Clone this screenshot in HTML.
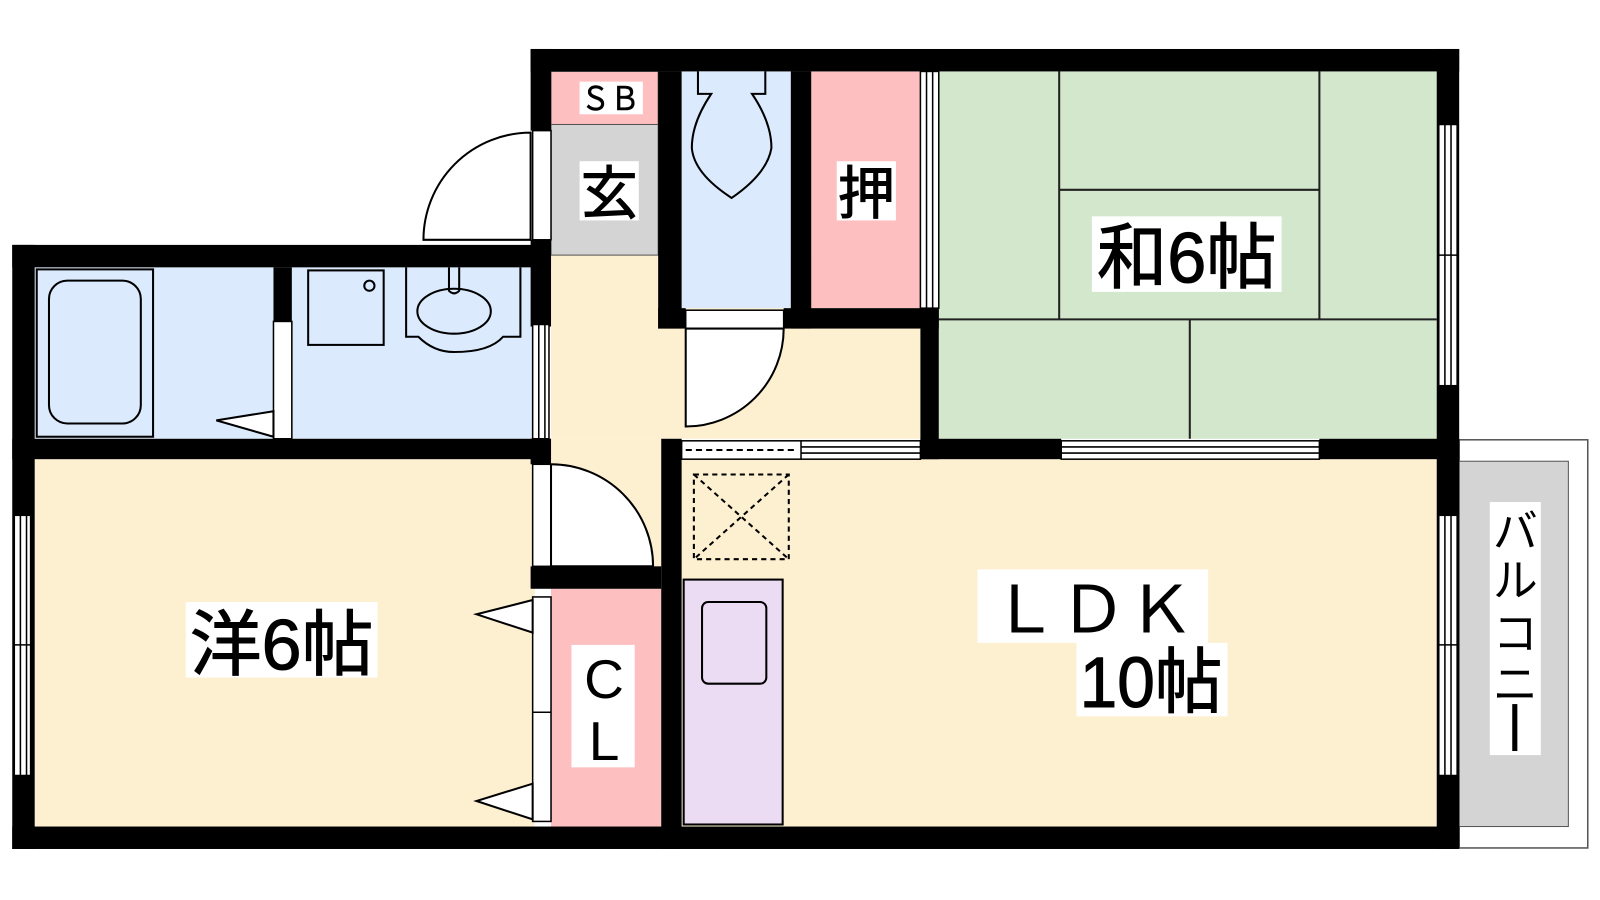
<!DOCTYPE html>
<html><head><meta charset="utf-8"><style>html,body{margin:0;padding:0;background:#fff}svg{display:block}</style></head>
<body>
<svg width="1600" height="900" viewBox="0 0 1568 882" preserveAspectRatio="none" xmlns="http://www.w3.org/2000/svg" font-family="'Liberation Sans','Noto Sans CJK JP',sans-serif">
<rect width="1568" height="882" fill="#fff"/>
<rect x="1430" y="431" width="126" height="400" fill="#fff" stroke="#555" stroke-width="1.5"/>
<rect x="1430" y="452" width="107" height="358" fill="#d4d4d4" stroke="#555" stroke-width="1"/>
<rect x="34" y="262" width="490" height="168" fill="#dbeafd"/>
<rect x="34" y="450" width="490" height="360" fill="#fdf0d0"/>
<rect x="540" y="250" width="362" height="180" fill="#fdf0d0"/>
<rect x="540" y="430" width="108" height="125" fill="#fdf0d0"/>
<rect x="668" y="450" width="740" height="360" fill="#fdf0d0"/>
<rect x="540" y="70" width="105" height="52" fill="#fdbfbf" stroke="#555" stroke-width="1"/>
<rect x="540" y="122" width="105" height="128" fill="#d4d4d4" stroke="#555" stroke-width="1"/>
<rect x="668" y="70" width="107" height="232" fill="#dbeafd"/>
<rect x="795" y="70" width="107" height="232" fill="#fdbfbf"/>
<rect x="540" y="577" width="108" height="233" fill="#fdbfbf"/>
<rect x="920" y="70" width="488" height="360" fill="#d2e7cb"/>
<g stroke="#222" stroke-width="2" fill="none">
<line x1="1038" y1="70" x2="1038" y2="313"/><line x1="1293" y1="70" x2="1293" y2="313"/>
<line x1="1038" y1="186" x2="1293" y2="186"/><line x1="920" y1="313" x2="1408" y2="313"/>
<line x1="1166" y1="313" x2="1166" y2="430"/>
</g>
<g fill="#000">
<rect x="520" y="48" width="910" height="22"/>
<rect x="1408" y="48" width="22" height="784"/>
<rect x="12" y="810" width="1418" height="22"/>
<rect x="12" y="240" width="22" height="592"/>
<rect x="12" y="240" width="528" height="22"/>
<rect x="12" y="430" width="528" height="20"/>
<rect x="520" y="48" width="20" height="80"/>
<rect x="520" y="235" width="20" height="85"/>
<rect x="268" y="262" width="18" height="53"/>
<rect x="645" y="70" width="23" height="252"/>
<rect x="775" y="70" width="20" height="252"/>
<rect x="645" y="302" width="27" height="20"/>
<rect x="768" y="302" width="152" height="20"/>
<rect x="902" y="302" width="18" height="148"/>
<rect x="902" y="430" width="138" height="20"/>
<rect x="1293" y="430" width="137" height="20"/>
<rect x="648" y="430" width="20" height="402"/>
<rect x="520" y="555" width="128" height="22"/>
<rect x="520" y="430" width="20" height="25"/>
</g>
<g fill="#fff" stroke="#000" stroke-width="1.5">
<rect x="902" y="70" width="18" height="232"/>
<line x1="908" y1="70" x2="908" y2="302"/><line x1="914" y1="70" x2="914" y2="302"/>
<rect x="1410" y="122" width="18" height="256"/>
<line x1="1416" y1="122" x2="1416" y2="378"/><line x1="1422" y1="122" x2="1422" y2="378"/><line x1="1410" y1="250" x2="1428" y2="250"/>
<rect x="1410" y="505" width="18" height="255"/>
<line x1="1416" y1="505" x2="1416" y2="760"/><line x1="1422" y1="505" x2="1422" y2="760"/><line x1="1410" y1="632" x2="1428" y2="632"/>
<rect x="14" y="505" width="16" height="255"/>
<line x1="20" y1="505" x2="20" y2="760"/><line x1="26" y1="505" x2="26" y2="760"/><line x1="14" y1="632" x2="30" y2="632"/>
<rect x="1040" y="432" width="253" height="18"/>
<line x1="1040" y1="438" x2="1293" y2="438"/><line x1="1040" y1="444" x2="1293" y2="444"/>
<rect x="668" y="432" width="234" height="18"/>
<line x1="785" y1="432" x2="785" y2="450"/><line x1="785" y1="438" x2="902" y2="438"/><line x1="785" y1="444" x2="902" y2="444"/>
<rect x="522" y="318" width="16" height="112"/>
<line x1="528" y1="318" x2="528" y2="430"/><line x1="534" y1="318" x2="534" y2="430"/>
<rect x="522" y="128" width="18" height="107"/>
<rect x="268" y="315" width="18" height="115"/>
<rect x="672" y="304" width="96" height="18"/>
<rect x="522" y="455" width="18" height="100"/>
<rect x="522" y="585" width="18" height="220"/><line x1="522" y1="698" x2="540" y2="698"/>
</g>
<line x1="672" y1="441" x2="782" y2="441" stroke="#000" stroke-width="2" stroke-dasharray="6,4"/>
<g fill="#fff" stroke="#000" stroke-width="2">
<path d="M520 130 A105 105 0 0 0 415 235 L520 235 Z"/>
<path d="M672 322 L768 322 A96 96 0 0 1 672 418 Z"/>
<path d="M540 455 A100 100 0 0 1 640 555 L540 555 Z"/>
<path d="M268 403 L212 412 L268 428 Z"/>
<path d="M522 588 L467 602 L522 620 Z"/>
<path d="M522 768 L467 785 L522 803 Z"/>
</g>
<g fill="none" stroke="#000" stroke-width="2">
<rect x="36" y="264" width="114" height="164"/>
<rect x="48" y="275" width="90" height="140" rx="18"/>
<rect x="302" y="265" width="74" height="73" />
<circle cx="362" cy="280" r="5"/>
<path d="M398 262 V330 H410 Q425 345 445 345 Q480 345 493 330 H510 V262"/>
<ellipse cx="445" cy="305" rx="36" ry="22"/>
<path d="M440 262 V285 Q445 290 450 285 V262"/>
<path d="M684 70 V92 H697 Q678 120 678 145 Q680 170 717 194 Q752 170 756 145 Q756 120 737 92 H750 V70" fill="#dbeafd"/>
<rect x="670" y="568" width="97" height="240" fill="#ecdcf3"/>
<rect x="688" y="590" width="63" height="80" rx="6"/>
</g>
<g fill="none" stroke="#000" stroke-width="2" stroke-dasharray="5,4">
<rect x="680" y="465" width="93" height="83"/>
<line x1="680" y1="465" x2="773" y2="548"/><line x1="773" y1="465" x2="680" y2="548"/>
</g>
<g fill="#fff">
<rect x="568" y="80" width="62" height="32"/>
<rect x="568" y="158" width="58" height="58"/>
<rect x="820" y="158" width="58" height="58"/>
<rect x="1070" y="212" width="186" height="74"/>
<rect x="958" y="558" width="226" height="72"/>
<rect x="1055" y="630" width="148" height="72"/>
<rect x="182" y="590" width="188" height="74"/>
<rect x="560" y="632" width="62" height="120"/>
<rect x="1460" y="492" width="50" height="248"/>
</g>
<g fill="#000" text-anchor="middle">
<text x="598" y="108" font-size="32" stroke="#000" stroke-width="0.5" textLength="58" lengthAdjust="spacingAndGlyphs">ＳＢ</text>
<text x="597" y="209" font-size="56" stroke="#000" stroke-width="1">玄</text>
<text x="849" y="209" font-size="56" stroke="#000" stroke-width="1">押</text>
<text x="1163" y="277" font-size="70" stroke="#000" stroke-width="1" textLength="176" lengthAdjust="spacingAndGlyphs">和6帖</text>
<text x="1071" y="620" font-size="64" textLength="200" lengthAdjust="spacingAndGlyphs">ＬＤＫ</text>
<text x="1128" y="693" font-size="70" stroke="#000" stroke-width="1" textLength="140" lengthAdjust="spacingAndGlyphs">10帖</text>
<text x="276" y="656" font-size="70" stroke="#000" stroke-width="1" textLength="180" lengthAdjust="spacingAndGlyphs">洋6帖</text>
<text x="592" y="684" font-size="54">C</text>
<text x="592" y="745" font-size="54">L</text>
<text x="1485" y="536" font-size="44">バ</text>
<text x="1485" y="584" font-size="44">ル</text>
<text x="1485" y="636" font-size="44">コ</text>
<text x="1485" y="686" font-size="44">ニ</text>
<rect x="1482" y="690" width="5" height="46"/>
</g>
</svg>
</body></html>
